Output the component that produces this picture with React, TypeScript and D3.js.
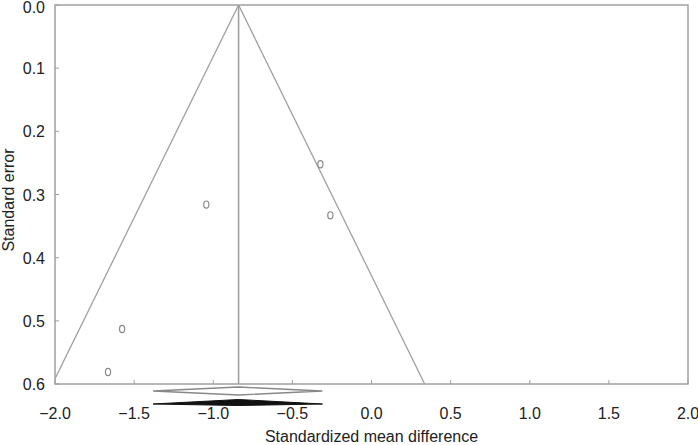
import React, { useRef, useEffect } from "react";
import * as d3 from "d3";

// study points
const smd = [-0.323, -0.26, -1.044, -1.576, -1.665];
const se = [0.252, 0.333, 0.316, 0.513, 0.581];

const pooled = -0.84;
const ciLow = -1.38;
const ciHigh = -0.31;

const xTicks = [-2.0, -1.5, -1.0, -0.5, 0.0, 0.5, 1.0, 1.5, 2.0];
const yTicks = [0.0, 0.1, 0.2, 0.3, 0.4, 0.5, 0.6];

function App() {
  const svgRef = useRef<SVGSVGElement>(null);

  useEffect(() => {
    const w = 698;
    const h = 445;
    const m = { left: 55, right: 688, top: 5, bottom: 384 };
    const svg = d3.select(svgRef.current).attr("width", w).attr("height", h);
    svg.selectAll("*").remove();

    const x = d3.scaleLinear().domain([-2, 2]).range([m.left, m.right]);
    const y = d3.scaleLinear().domain([0, 0.6]).range([m.top, m.bottom]);
    const grey = "#a0a0a0";
    const font = "'Liberation Sans', Arial, sans-serif";

    // clip for funnel
    svg.append("defs").append("clipPath").attr("id", "plotclip")
      .append("rect")
      .attr("x", m.left).attr("y", m.top)
      .attr("width", m.right - m.left).attr("height", m.bottom - m.top);

    const plot = svg.append("g").attr("clip-path", "url(#plotclip)");

    const funnel = d3.line<[number, number]>()
      .x((d) => x(d[0]))
      .y((d) => y(d[1]));
    plot.append("path")
      .attr("d", funnel([[pooled - 1.96 * 0.6, 0.6], [pooled, 0], [pooled + 1.96 * 0.6, 0.6]]))
      .attr("fill", "none")
      .attr("stroke", grey)
      .attr("stroke-width", 1.3);

    plot.append("line")
      .attr("x1", x(pooled)).attr("x2", x(pooled))
      .attr("y1", y(0)).attr("y2", y(0.6))
      .attr("stroke", grey)
      .attr("stroke-width", 1.6);

    // frame
    svg.append("rect")
      .attr("x", m.left).attr("y", m.top)
      .attr("width", m.right - m.left).attr("height", m.bottom - m.top)
      .attr("fill", "none")
      .attr("stroke", grey)
      .attr("stroke-width", 1.5);

    // ticks
    svg.selectAll(".xt").data(xTicks).enter().append("line")
      .attr("x1", (d) => x(d)).attr("x2", (d) => x(d))
      .attr("y1", m.bottom).attr("y2", m.bottom - 4)
      .attr("stroke", grey);
    svg.selectAll(".yt").data(yTicks).enter().append("line")
      .attr("x1", m.left).attr("x2", m.left + 4)
      .attr("y1", (d) => y(d)).attr("y2", (d) => y(d))
      .attr("stroke", grey);

    svg.selectAll(".xl").data(xTicks).enter().append("text")
      .attr("x", (d) => x(d))
      .attr("y", 419)
      .attr("text-anchor", "middle")
      .attr("font-family", font)
      .attr("font-size", 16)
      .attr("fill", "#222")
      .text((d) => (d < 0 ? "\u2212" : "") + Math.abs(d).toFixed(1));

    svg.selectAll(".yl").data(yTicks).enter().append("text")
      .attr("x", 45)
      .attr("y", (d) => Math.max(y(d) + 6, 13))
      .attr("text-anchor", "end")
      .attr("font-family", font)
      .attr("font-size", 16)
      .attr("fill", "#222")
      .text((d) => d.toFixed(1));

    svg.append("text")
      .attr("x", (x(-2) + x(2)) / 2)
      .attr("y", 442)
      .attr("text-anchor", "middle")
      .attr("font-family", font)
      .attr("font-size", 16)
      .attr("fill", "#222")
      .text("Standardized mean difference");

    svg.append("text")
      .attr("transform", `translate(14, 200) rotate(-90)`)
      .attr("text-anchor", "middle")
      .attr("font-family", font)
      .attr("font-size", 16)
      .attr("fill", "#222")
      .text("Standard error");

    // studies
    svg.selectAll(".pt").data(smd).enter().append("ellipse")
      .attr("cx", (d) => x(d))
      .attr("cy", (d, i) => y(se[i]))
      .attr("rx", 2.6)
      .attr("ry", 3.6)
      .attr("fill", "white")
      .attr("stroke", "#8a8a8a")
      .attr("stroke-width", 1.2);

    // summary diamonds
    const diamond = (cy: number, hh: number) =>
      `M${x(ciLow)},${cy} L${x(pooled)},${cy - hh} L${x(ciHigh)},${cy} L${x(pooled)},${cy + hh} Z`;
    svg.append("path")
      .attr("d", diamond(391, 4))
      .attr("fill", "white")
      .attr("stroke", "#888")
      .attr("stroke-width", 1.4);
    svg.append("path")
      .attr("d", `M${x(ciLow)},${404} L${x(pooled)},${399.5} L${x(ciHigh)},${404} L${x(pooled)},${405.5} Z`)
      .attr("fill", "#111")
      .attr("stroke", "#111")
      .attr("stroke-width", 1);
  }, []);

  return <svg ref={svgRef} style={{ position: "absolute", left: 0, top: 0 }}></svg>;
}

export default App;
